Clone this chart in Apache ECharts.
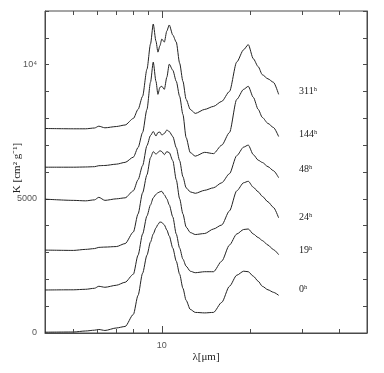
<!DOCTYPE html>
<html><head><meta charset="utf-8">
<script src="https://cdn.jsdelivr.net/npm/echarts@6/dist/echarts.min.js"></script>
<style>html,body{margin:0;padding:0;background:#fff}#c{width:384px;height:373px}</style>
</head><body><div id="c"></div>
<script>
// ---- data ----
const wavelength = [4.0,5.0,5.5,5.9,6.1,6.4,7.0,7.5,8.0,8.3, 8.6,8.9,9.15,9.35,9.55,9.7,9.85,10.0,10.2,10.4, 10.6,10.9,11.2,11.5,11.8,12.1,12.5,13,14,15, 16,17,18,19,19.7,20.5,21.3,22,23,24,25];
const k311 = [7621,7610,7610,7640,7707,7647,7695,7752,7996,8333, 8820,9831,10767,11516,10879,10467,10704,10954,10842,11254, 11479,11104,10842,10055,9381,8707,8333,8183,8333,8445, 8632,9000,10100,10557,10748,10220,9924,9625,9471,9344,8894];
const k144 = [6179,6179,6187,6198,6235,6243,6292,6359,6554,6910, 7471,8333,9344,10093,9381,8894,9156,9194,9081,9531, 10018,9794,9381,8820,8146,7284,6723,6591,6733,6685, 7000,7470,8707,9081,9194,8782,8333,8034,7809,7659,7321];
const k48  = [4988,4943,4925,4962,5056,4943,5000,5037,5299,5711, 6236,6984,7359,7509,7340,7471,7490,7378,7434,7565, 7509,7321,6910,6423,5824,5412,5261,5206,5318,5412, 5599,5936,6610,6928,7003,6647,6441,6355,6198,6049,5786];
const k24  = [3090,3078,3116,3146,3191,3202,3221,3333,3764,4438, 5224,5898,6535,6760,6666,6722,6797,6760,6647,6760, 6722,6423,5711,5000,4438,3951,3745,3670,3708,3876, 4026,4550,5299,5599,5655,5430,5262,5093,4887,4681,4290];
const k19  = [1603,1610,1629,1667,1741,1704,1779,1891,2191,2902, 3689,4363,4775,5037,5168,5224,5262,5280,5149,5000, 4775,4326,3689,3165,2753,2491,2303,2247,2284,2284, 2678,3277,3689,3857,3876,3689,3558,3445,3277,3108,2921];
const k0   = [30,37,75,105,131,94,187,243,693,1404, 2228,2902,3389,3689,3914,4045,4138,4120,4026,3839, 3614,3165,2678,2191,1667,1217,880,768,749,768, 1142,1741,2153,2303,2284,2116,1929,1741,1610,1517,1404];
const seriesNames = ['311ʰ','144ʰ','48ʰ','24ʰ','19ʰ','0ʰ'];
const xTicks = [5,6,7,8,9,10,20,30,40];
const xMajorTicks = [10];
const xLabelTicks = [10];
const yTickLabels = {0:'0', 5000:'5000', 10000:'10⁴'};
const xTitle = 'λ[μm]';
const yTitle = 'K [cm² g⁻¹]';
const X_MIN = 4, X_MAX = 50, Y_MIN = 0, Y_MAX = 12000;

// ---- chart ----
const chart = echarts.init(document.getElementById('c'), null, {renderer:'canvas'});
const allSeries = [k311,k144,k48,k24,k19,k0];
const lineSeries = allSeries.map((arr,i)=>({
  type:'line', name:seriesNames[i], data:wavelength.map((w,j)=>[w,arr[j]]),
  showSymbol:false, symbol:'none', silent:true, animation:false, z:3,
  smooth:0.25, smoothMonotone:'x',
  lineStyle:{color:'#222', width:1}
}));
const labelTop = [86, 129, 164, 212, 245, 284];
const frameColor = '#4a4a4a';

chart.setOption({
  animation:false,
  grid:{left:45, right:17, top:11, bottom:40, show:true, borderColor:frameColor, borderWidth:1,
        containLabel:false, outerBoundsMode:'none'},
  xAxis:[{
    type:'log', logBase:10, min:X_MIN, max:X_MAX, position:'bottom',
    name:xTitle, nameLocation:'middle', nameGap:19, nameMoveOverlap:false,
    nameTextStyle:{fontFamily:'Liberation Serif', fontSize:11, color:'#222'},
    axisLine:{show:true, lineStyle:{color:frameColor}},
    axisTick:{show:false}, minorTick:{show:false}, splitLine:{show:false}, minorSplitLine:{show:false},
    axisLabel:{formatter:v=>xLabelTicks.some(t=>Math.abs(t-v)<1e-6)?String(Math.round(v)):'',
      margin:8, fontSize:9, color:'#555', fontFamily:'Liberation Sans'}
  }],
  yAxis:[{
    type:'value', min:Y_MIN, max:Y_MAX, interval:1000, position:'left',
    axisLine:{show:true, lineStyle:{color:frameColor}},
    axisTick:{show:true, inside:true, length:4, lineStyle:{color:frameColor}},
    axisLabel:{formatter:v=>(yTickLabels[v] !== undefined ? yTickLabels[v] : ''), margin:8, fontSize:9, color:'#555', fontFamily:'Liberation Sans'},
    splitLine:{show:false}
  },{
    type:'value', min:Y_MIN, max:Y_MAX, interval:1000, position:'right',
    axisLine:{show:true, lineStyle:{color:frameColor}},
    axisTick:{show:true, inside:true, length:4, lineStyle:{color:frameColor}},
    axisLabel:{show:false}, splitLine:{show:false}
  }],
  series: lineSeries.concat([{
    type:'custom', xAxisIndex:0, yAxisIndex:0, silent:true, animation:false, clip:false, z:4,
    data: xTicks.map(v=>[v, Y_MIN]),
    renderItem:(params, api)=>{
      const v = api.value(0);
      const b = api.coord([v, Y_MIN]);
      const t = api.coord([v, Y_MAX]);
      const len = xMajorTicks.includes(v) ? 7 : 4;
      const x = Math.round(b[0]) + 0.5;
      return {type:'group', children:[
        {type:'line', shape:{x1:x, y1:b[1], x2:x, y2:b[1]-len}, style:{stroke:frameColor, lineWidth:1}},
        {type:'line', shape:{x1:x, y1:t[1], x2:x, y2:t[1]+len}, style:{stroke:frameColor, lineWidth:1}}
      ]};
    }
  }]),
  graphic: seriesNames.map((n,i)=>({
    type:'text', left:299, top:labelTop[i], silent:true,
    style:{text:n, font:'10px "Liberation Serif"', fill:'#222'}
  })).concat([{
    type:'text', x:17, y:168, rotation:Math.PI/2, silent:true,
    style:{text:yTitle, font:'11px "Liberation Serif"', fill:'#222', align:'center', verticalAlign:'middle'}
  }])
});
</script></body></html>
